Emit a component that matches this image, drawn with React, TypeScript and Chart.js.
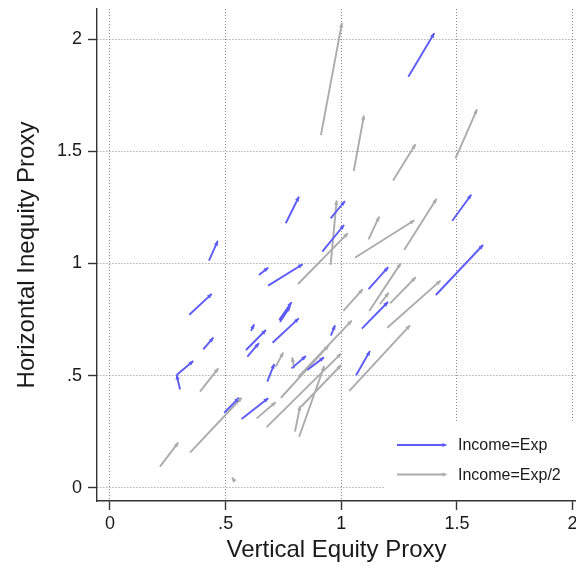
import React, { useEffect, useRef } from 'react';
import { Chart, registerables } from 'chart.js';

Chart.register(...registerables);

// ---- data ----
const tickValues = [0, 0.5, 1, 1.5, 2];
const tickLabels = ['0', '.5', '1', '1.5', '2'];

const xTitle = 'Vertical Equity Proxy';
const yTitle = 'Horizontal Inequity Proxy';
const seriesNames = ['Income=Exp', 'Income=Exp/2'];

// Income=Exp (blue) arrows: tail -> head
const blueStartX = [1.290, 1.480, 1.409, 0.760, 0.954, 0.918, 0.684, 1.118, 1.089, 0.955, 1.064, 0.428, 0.343, 0.403, 0.303, 0.288, 0.494, 0.569, 0.644, 0.732, 0.735, 0.703, 0.610, 0.588, 0.594, 0.680, 0.785, 0.853];
const blueStartY = [1.832, 1.190, 0.859, 1.179, 1.201, 1.052, 0.901, 0.885, 0.709, 0.678, 0.501, 1.012, 0.771, 0.617, 0.438, 0.502, 0.334, 0.306, 0.948, 0.748, 0.739, 0.646, 0.699, 0.614, 0.584, 0.473, 0.532, 0.525];
const blueEndX = [1.402, 1.562, 1.613, 0.817, 1.016, 1.012, 0.833, 1.203, 1.202, 0.973, 1.124, 0.466, 0.440, 0.447, 0.288, 0.360, 0.558, 0.684, 0.684, 0.785, 0.778, 0.816, 0.623, 0.674, 0.644, 0.710, 0.847, 0.925];
const blueEndY = [2.026, 1.306, 1.082, 1.297, 1.278, 1.171, 0.996, 0.983, 0.828, 0.724, 0.609, 1.100, 0.864, 0.669, 0.502, 0.565, 0.401, 0.399, 0.981, 0.827, 0.806, 0.755, 0.728, 0.703, 0.644, 0.551, 0.587, 0.581];

// Income=Exp/2 (gray) arrows: tail -> head
const grayStartX = [0.912, 1.054, 1.224, 1.494, 0.954, 0.813, 1.118, 1.059, 1.272, 1.121, 1.167, 1.211, 1.199, 1.009, 1.035, 0.814, 0.739, 0.389, 0.216, 0.346, 0.634, 0.677, 0.716, 0.797, 0.800, 0.818, 0.826, 0.540];
const grayStartY = [1.572, 1.412, 1.370, 1.468, 0.993, 0.908, 1.107, 1.025, 1.060, 0.788, 0.818, 0.822, 0.713, 0.788, 0.432, 0.494, 0.401, 0.428, 0.094, 0.156, 0.309, 0.270, 0.539, 0.532, 0.250, 0.227, 0.361, 0.027];
const grayEndX = [1.003, 1.098, 1.321, 1.587, 0.980, 1.028, 1.164, 1.316, 1.412, 1.257, 1.205, 1.322, 1.429, 1.093, 1.297, 1.045, 0.945, 0.468, 0.295, 0.569, 0.716, 0.999, 0.749, 0.788, 0.822, 0.926, 0.999, 0.528];
const grayEndY = [2.072, 1.659, 1.531, 1.687, 1.280, 1.134, 1.208, 1.192, 1.288, 1.000, 0.869, 0.938, 0.923, 0.885, 0.724, 0.745, 0.633, 0.532, 0.201, 0.401, 0.381, 0.598, 0.602, 0.581, 0.364, 0.542, 0.546, 0.045];

// ---- styles ----
const BLUE = 'rgb(92,92,252)';
const GRAY = 'rgb(172,172,172)';
const FONT = '"Liberation Sans", Arial, Helvetica, sans-serif';
const TEXT = '#1a1a1a';
const AXIS = '#333333';

function buildSegments(sx: number[], sy: number[], ex: number[], ey: number[]) {
  const pts: { x: number; y: number | null }[] = [];
  for (let i = 0; i < sx.length; i++) {
    pts.push({ x: sx[i], y: sy[i] });
    pts.push({ x: ex[i], y: ey[i] });
    pts.push({ x: ex[i], y: null });
  }
  return pts;
}

function drawHead(ctx: CanvasRenderingContext2D, x0: number, y0: number, x1: number, y1: number, color: string) {
  const ang = Math.atan2(y1 - y0, x1 - x0);
  const len = 4.5;
  const hw = 2.1;
  const bx = x1 - len * Math.cos(ang);
  const by = y1 - len * Math.sin(ang);
  ctx.save();
  ctx.fillStyle = color;
  ctx.beginPath();
  ctx.moveTo(x1 + 0.5 * Math.cos(ang), y1 + 0.5 * Math.sin(ang));
  ctx.lineTo(bx + hw * Math.sin(ang), by - hw * Math.cos(ang));
  ctx.lineTo(bx - hw * Math.sin(ang), by + hw * Math.cos(ang));
  ctx.closePath();
  ctx.fill();
  ctx.restore();
}

const arrowHeads = {
  id: 'arrowHeads',
  afterDatasetsDraw(chart: any) {
    const ctx = chart.ctx;
    const area = chart.chartArea;
    ctx.save();
    ctx.beginPath();
    ctx.rect(area.left, area.top, area.right - area.left, area.bottom - area.top);
    ctx.clip();
    chart.data.datasets.forEach((ds: any, di: number) => {
      const meta = chart.getDatasetMeta(di);
      for (let k = 0; k + 1 < meta.data.length; k += 3) {
        const a = meta.data[k];
        const b = meta.data[k + 1];
        drawHead(ctx, a.x, a.y, b.x, b.y, ds.borderColor);
      }
    });
    ctx.restore();
  },
};

const legendBox = {
  id: 'legendBox',
  afterDatasetsDraw(chart: any) {
    const ctx = chart.ctx;
    const area = chart.chartArea;
    const left = 385;
    const top = 423;
    ctx.save();
    ctx.fillStyle = '#ffffff';
    ctx.fillRect(left, top, area.right - left, area.bottom - 1 - top);
    const items = [
      { color: BLUE, label: seriesNames[0], y: 445 },
      { color: GRAY, label: seriesNames[1], y: 474.5 },
    ];
    items.forEach((it) => {
      ctx.strokeStyle = it.color;
      ctx.lineWidth = 1.8;
      ctx.beginPath();
      ctx.moveTo(397, it.y);
      ctx.lineTo(445, it.y);
      ctx.stroke();
      drawHead(ctx, 397, it.y, 447, it.y, it.color);
      ctx.fillStyle = TEXT;
      ctx.font = `16px ${FONT}`;
      ctx.textBaseline = 'middle';
      ctx.textAlign = 'left';
      ctx.fillText(it.label, 458, it.y + 1);
    });
    ctx.restore();
  },
};

function axisOptions(min: number, max: number, title: string, isX: boolean) {
  return {
    type: 'linear',
    position: isX ? 'bottom' : 'left',
    min,
    max,
    afterBuildTicks: (axis: any) => {
      axis.ticks = tickValues.map((v) => ({ value: v }));
    },
    afterFit: (axis: any) => {
      if (isX) {
        axis.height = 67;
        axis.paddingLeft = 0;
        axis.paddingRight = 0;
      } else {
        axis.width = 97;
        axis.paddingTop = 0;
        axis.paddingBottom = 0;
      }
    },
    ticks: {
      autoSkip: false,
      maxRotation: 0,
      minRotation: 0,
      padding: isX ? 3 : 6,
      color: TEXT,
      font: { family: FONT, size: 18 },
      callback: (value: number) => {
        const i = tickValues.indexOf(value);
        return i >= 0 ? tickLabels[i] : '';
      },
    },
    grid: {
      color: '#8a8a8a',
      lineWidth: 1,
      drawTicks: true,
      tickLength: 9,
      tickColor: AXIS,
      tickWidth: 1.4,
      tickBorderDash: [],
    },
    border: {
      display: true,
      color: AXIS,
      width: 1.4,
      dash: [1, 2],
    },
    title: {
      display: true,
      text: title,
      color: TEXT,
      font: { family: FONT, size: 24 },
      padding: isX ? { top: 0, bottom: 3 } : { top: 13, bottom: 0 },
    },
  };
}

export default function App() {
  const ref = useRef<HTMLCanvasElement | null>(null);

  useEffect(() => {
    if (!ref.current) return;
    const chart = new Chart(ref.current, {
      type: 'scatter',
      data: {
        datasets: [
          {
            label: seriesNames[0],
            data: buildSegments(blueStartX, blueStartY, blueEndX, blueEndY) as any,
            showLine: true,
            spanGaps: false,
            borderColor: BLUE,
            backgroundColor: BLUE,
            borderWidth: 1.9,
            pointRadius: 0,
            pointHoverRadius: 0,
          },
          {
            label: seriesNames[1],
            data: buildSegments(grayStartX, grayStartY, grayEndX, grayEndY) as any,
            showLine: true,
            spanGaps: false,
            borderColor: GRAY,
            backgroundColor: GRAY,
            borderWidth: 1.9,
            pointRadius: 0,
            pointHoverRadius: 0,
          },
        ],
      },
      options: {
        responsive: false,
        animation: false,
        events: [],
        layout: { padding: { top: 9, left: 0, right: 0, bottom: 0 } },
        plugins: {
          legend: { display: false },
          tooltip: { enabled: false },
        },
        scales: {
          x: axisOptions(-0.0562, 2.015, xTitle, true) as any,
          y: axisOptions(-0.0593, 2.134, yTitle, false) as any,
        },
      },
      plugins: [legendBox, arrowHeads],
    });
    return () => chart.destroy();
  }, []);

  return (
    <div style={{ position: 'fixed', left: 0, top: 0, width: 576, height: 568, background: '#fff' }}>
      <canvas ref={ref} width={576} height={568} style={{ display: 'block' }} />
    </div>
  );
}
